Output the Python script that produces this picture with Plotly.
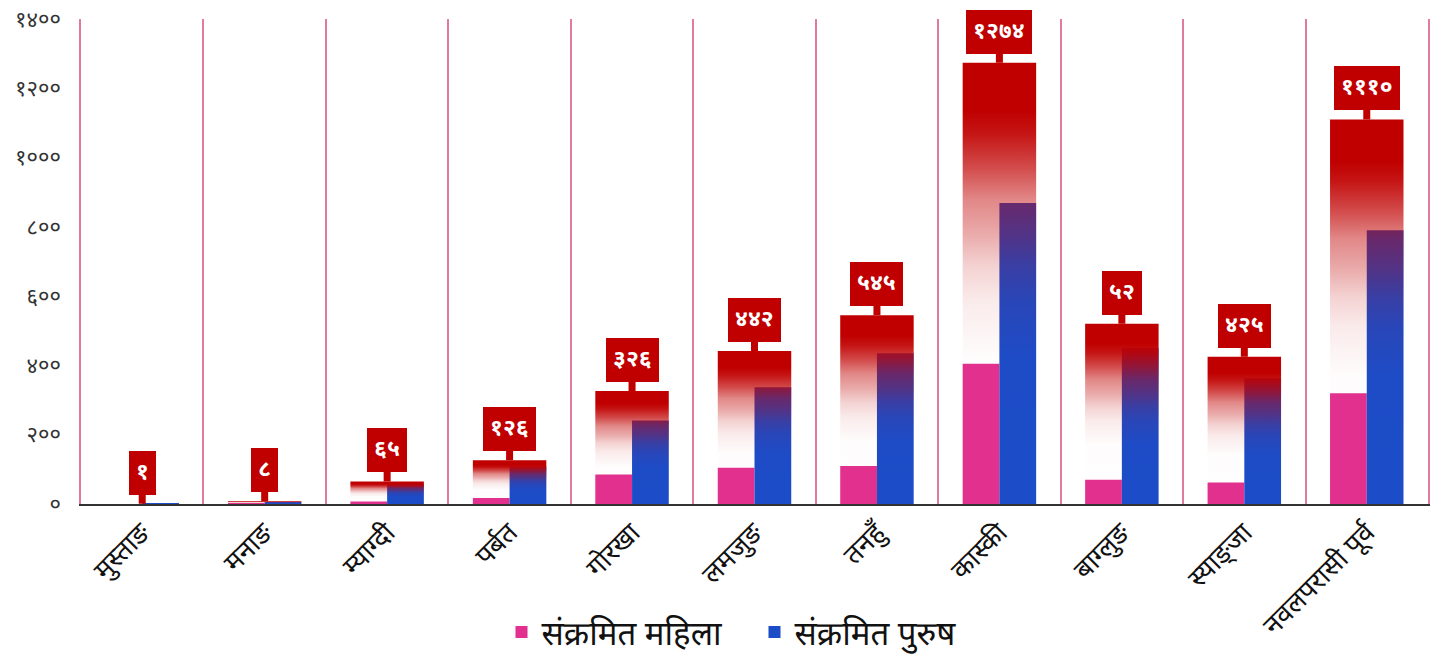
import plotly.graph_objects as go

districts = ["मुस्ताङ", "मनाङ", "म्याग्दी", "पर्बत", "गोरखा", "लमजुङ", "तनहुँ", "कास्की", "बाग्लुङ", "स्याङ्जा", "नवलपरासी पूर्व"]
female = [0, 2, 7, 17, 85, 105, 110, 405, 70, 62, 320]
male = [1, 6, 58, 109, 241, 337, 435, 869, 450, 363, 790]
totals = [1, 8, 65, 126, 326, 442, 545, 1274, 520, 425, 1110]
total_labels = ["१", "८", "६५", "१२६", "३२६", "४४२", "५४५", "१२७४", "५२", "४२५", "१११०"]
ytick_vals = [0, 200, 400, 600, 800, 1000, 1200, 1400]
ytick_text = ["०", "२००", "४००", "६००", "८००", "१०००", "१२००", "१४००"]

RED = "192,0,0"
FONT = "Noto Sans Devanagari, Noto Sans, Lohit Devanagari, sans-serif"
SEP = "#e27aa0"

fig = go.Figure()
xs = list(range(len(districts)))

fig.add_trace(go.Bar(x=xs, y=female, name="संक्रमित महिला", marker=dict(color="#e2308f", line=dict(width=0)),
                     width=0.3, offset=-0.3))
fig.add_trace(go.Bar(x=xs, y=male, name="संक्रमित पुरुष", marker=dict(color="#1c4cc8", line=dict(width=0)),
                     width=0.3, offset=0.0))

grad = [
    [0.0, f"rgba({RED},0)"],
    [0.33, f"rgba({RED},0.01)"],
    [0.46, f"rgba({RED},0.08)"],
    [0.54, f"rgba({RED},0.18)"],
    [0.61, f"rgba({RED},0.33)"],
    [0.69, f"rgba({RED},0.47)"],
    [0.76, f"rgba({RED},0.7)"],
    [0.84, f"rgba({RED},0.92)"],
    [0.89, f"rgba({RED},1)"],
    [1.0, f"rgba({RED},1)"],
]

for i, t in enumerate(totals):
    fig.add_trace(go.Scatter(
        x=[i - 0.3, i + 0.3, i + 0.3, i - 0.3, i - 0.3],
        y=[0, 0, t, t, 0],
        mode="lines", line=dict(width=0, color=f"rgb({RED})"),
        fill="toself",
        fillgradient=dict(type="vertical", colorscale=grad, start=0, stop=max(t, 1)),
        showlegend=False, hoverinfo="skip",
    ))
    fig.add_annotation(
        x=i, y=t, text=f"<b>{total_labels[i]}</b>", showarrow=True,
        arrowhead=0, arrowwidth=7, arrowcolor="#c00000", ax=0, ay=-31, standoff=0,
        bgcolor="#c00000", bordercolor="#c00000", borderpad=6,
        font=dict(color="white", size=23, family=FONT),
    )

# page body has an 8px default margin, so plot-area margins are shifted to compensate
fig.update_layout(
    width=1443, height=664,
    margin=dict(l=73, r=23, t=11, b=168),
    paper_bgcolor="white", plot_bgcolor="white",
    barmode="overlay",
    font=dict(family=FONT, color="#222"),
    showlegend=True,
    legend=dict(orientation="h", x=0.5, xanchor="center", y=-0.264, yanchor="middle",
                font=dict(size=33, color="#111", family=FONT), itemsizing="constant",
                entrywidth=208, entrywidthmode="pixels"),
    xaxis=dict(
        range=[-0.5, len(districts) - 0.5], tickmode="array", tickvals=xs, ticktext=districts,
        tickangle=-45, tickfont=dict(size=27, color="#111"), showgrid=False, zeroline=False,
        showline=True, linecolor="#333", linewidth=2, ticks="", automargin=False,
        minor=dict(tick0=-0.5, dtick=1, showgrid=True, gridcolor=SEP, gridwidth=1.5, ticks=""),
    ),
    yaxis=dict(
        range=[0, 1400], tickmode="array", tickvals=ytick_vals, ticktext=ytick_text,
        tickfont=dict(size=22, color="#333"), showgrid=False, zeroline=False,
        showline=True, linecolor=SEP, linewidth=1.5, mirror=True, automargin=False,
        ticks="outside", ticklen=14, tickcolor="rgba(0,0,0,0)", ticklabeloverflow="allow",
    ),
)

fig.write_html("out.html")
